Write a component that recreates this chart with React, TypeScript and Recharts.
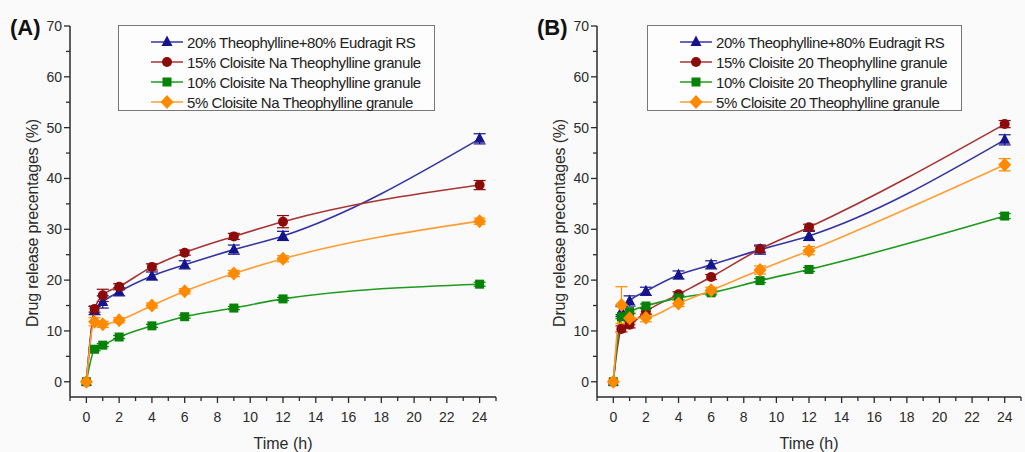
import React from "react";
import {
  LineChart,
  Line,
  XAxis,
  YAxis,
  ErrorBar,
  Legend,
  Label,
} from "recharts";

// sampling times (h)
const times = [0, 0.5, 1, 2, 4, 6, 9, 12, 24];

const xTicks = [-1, 0, 1, 2, 3, 4, 5, 6, 7, 8, 9, 10, 11, 12, 13, 14, 15, 16, 17, 18, 19, 20, 21, 22, 23, 24, 25];
const yTicks = [0, 5, 10, 15, 20, 25, 30, 35, 40, 45, 50, 55, 60, 65, 70];

// panel A: Cloisite Na
const namesA = [
  "20% Theophylline+80% Eudragit RS",
  "15% Cloisite Na Theophylline granule",
  "10% Cloisite Na Theophylline granule",
  "5% Cloisite Na Theophylline granule",
];
const aBlue = [0, 14.0, 15.7, 17.7, 20.8, 23.0, 26.0, 28.7, 47.8];
const aBlueErr = [0, 0.8, 1.2, 0.8, 0.8, 0.8, 0.9, 0.9, 1.0];
const aRed = [0, 14.3, 17.0, 18.7, 22.6, 25.4, 28.6, 31.5, 38.7];
const aRedErr = [0, 0.6, 1.2, 0.6, 0.6, 0.5, 0.6, 1.2, 0.9];
const aGreen = [0, 6.4, 7.2, 8.8, 11.0, 12.8, 14.5, 16.3, 19.2];
const aGreenErr = [0, 0.3, 0.3, 0.3, 0.3, 0.3, 0.3, 0.3, 0.4];
const aOrange = [0, 11.8, 11.3, 12.1, 15.0, 17.8, 21.3, 24.2, 31.6];
const aOrangeErr = [0, 0.8, 0.6, 0.5, 0.5, 0.5, 0.6, 0.6, 0.6];

// panel B: Cloisite 20
const namesB = [
  "20% Theophylline+80% Eudragit RS",
  "15% Cloisite 20 Theophylline granule",
  "10% Cloisite 20 Theophylline granule",
  "5% Cloisite 20 Theophylline granule",
];
const bBlue = [0, 13.8, 15.9, 17.8, 21.0, 23.0, 26.0, 28.7, 47.6];
const bBlueErr = [0, 1.0, 1.0, 0.8, 0.8, 0.8, 0.9, 0.9, 1.0];
const bRed = [0, 10.4, 11.2, 13.8, 17.2, 20.6, 26.1, 30.4, 50.7];
const bRedErr = [0, 0.6, 0.6, 0.6, 0.5, 0.5, 0.6, 0.6, 0.7];
const bGreen = [0, 12.8, 13.8, 14.9, 16.5, 17.5, 19.9, 22.1, 32.6];
const bGreenErr = [0, 0.4, 0.4, 0.4, 0.4, 0.4, 0.4, 0.4, 0.5];
const bOrange = [0, 15.1, 12.5, 12.6, 15.4, 18.0, 22.0, 25.8, 42.7];
const bOrangeErr = [0, 3.6, 1.2, 0.8, 0.6, 0.6, 0.8, 0.8, 1.2];

const FONT = "'Liberation Sans', Arial, sans-serif";
const INK = "#2b2b2b";

const styles = [
  { key: "blue", dot: "#14148c", line: "#3535a3", shape: "triangle" },
  { key: "red", dot: "#8b0a0a", line: "#a83232", shape: "circle" },
  { key: "green", dot: "#078207", line: "#1e9a1e", shape: "square" },
  { key: "orange", dot: "#ff8a00", line: "#ff9d33", shape: "diamond" },
];

function Marker({ cx, cy, shape, fill }: any) {
  if (cx == null || cy == null) return null;
  if (shape === "triangle")
    return <polygon points={`${cx},${cy - 6.5} ${cx - 5.5},${cy + 4} ${cx + 5.5},${cy + 4}`} fill={fill} />;
  if (shape === "circle") return <circle cx={cx} cy={cy} r={5} fill={fill} />;
  if (shape === "square") return <rect x={cx - 4.5} y={cy - 4.5} width={9} height={9} fill={fill} />;
  return <polygon points={`${cx},${cy - 7} ${cx + 6.5},${cy} ${cx},${cy + 7} ${cx - 6.5},${cy}`} fill={fill} />;
}

const XTick = ({ x, y, payload }: any) => {
  const v = payload.value;
  const major = v >= 0 && v % 2 === 0;
  return (
    <g>
      <line x1={x} x2={x} y1={y} y2={y + (major ? 6 : 4)} stroke={INK} strokeWidth={1.3} />
      {major && (
        <text x={x} y={y + 25} textAnchor="middle" fontSize={14} fill={INK} fontFamily={FONT}>
          {v}
        </text>
      )}
    </g>
  );
};

const YTick = ({ x, y, payload }: any) => {
  const v = payload.value;
  const major = v % 10 === 0;
  return (
    <g>
      <line x1={x} x2={x - (major ? 6 : 4)} y1={y} y2={y} stroke={INK} strokeWidth={1.3} />
      {major && (
        <text x={x - 8} y={y + 5} textAnchor="end" fontSize={14} fill={INK} fontFamily={FONT}>
          {v}
        </text>
      )}
    </g>
  );
};

function LegendBox({ names, left, width }: any) {
  return (
    <div
      style={{
        position: "absolute",
        left,
        top: 25,
        width,
        height: 86,
        boxSizing: "border-box",
        border: "1px solid #777",
        background: "#fdfdfd",
        fontFamily: FONT,
        fontSize: 15,
        letterSpacing: -0.45,
        color: "#222",
      }}
    >
      {names.map((n: string, i: number) => (
        <div key={n} style={{ position: "absolute", left: 31, top: 6 + i * 20, height: 20, display: "flex", alignItems: "center" }}>
          <svg width={34} height={20}>
            <line x1={1} x2={33} y1={10} y2={10} stroke={styles[i].line} strokeWidth={1.5} />
            <Marker cx={17} cy={10} shape={styles[i].shape} fill={styles[i].dot} />
          </svg>
          <span style={{ marginLeft: 3, whiteSpace: "nowrap" }}>{n}</span>
        </div>
      ))}
    </div>
  );
}

function Panel({ tag, names, values, errors, left, width, axisLeft, rightMargin, legendLeft, legendWidth }: any) {
  const rows = times.map((t, i) => {
    const r: any = { time: t };
    styles.forEach((s, k) => {
      r[s.key] = values[k][i];
      r[s.key + "Err"] = errors[k][i];
    });
    return r;
  });
  return (
    <div style={{ position: "absolute", left, top: 0, width, height: 452 }}>
      <LineChart width={width} height={452} data={rows} margin={{ top: 26, right: rightMargin, bottom: 0, left: 0 }}>
        <XAxis
          dataKey="time"
          type="number"
          domain={[-1, 25]}
          ticks={xTicks}
          interval={0}
          height={55}
          tickSize={0}
          tickMargin={0}
          tick={<XTick />}
          axisLine={{ stroke: INK, strokeWidth: 1.5 }}
          tickLine={false}
        >
          <Label
            content={({ viewBox }: any) => (
              <text x={viewBox.x + viewBox.width / 2} y={viewBox.y + 52} textAnchor="middle" fontSize={16} fill={INK} fontFamily={FONT}>
                Time (h)
              </text>
            )}
          />
        </XAxis>
        <YAxis
          type="number"
          domain={[-3, 70]}
          ticks={yTicks}
          interval={0}
          width={axisLeft}
          tickSize={0}
          tickMargin={0}
          tick={<YTick />}
          axisLine={{ stroke: INK, strokeWidth: 1.5 }}
          tickLine={false}
        >
          <Label
            content={({ viewBox }: any) => {
              const cx = viewBox.x + axisLeft - 32;
              const cy = 223;
              return (
                <text x={cx} y={cy} transform={`rotate(-90 ${cx} ${cy})`} textAnchor="middle" fontSize={16} letterSpacing={-0.2} fill={INK} fontFamily={FONT}>
                  Drug release precentages (%)
                </text>
              );
            }}
          />
        </YAxis>
        <Legend content={() => null} />
        {styles.map((s, k) => (
          <Line
            key={s.key}
            dataKey={s.key}
            name={names[k]}
            type="monotone"
            stroke={s.line}
            strokeWidth={1.6}
            isAnimationActive={false}
            dot={(p: any) => <Marker key={`${s.key}-${p.index}`} cx={p.cx} cy={p.cy} shape={s.shape} fill={s.dot} />}
            activeDot={false}
          >
            <ErrorBar dataKey={s.key + "Err"} width={6} stroke={s.dot} strokeWidth={1.2} direction="y" />
          </Line>
        ))}
      </LineChart>
      <LegendBox names={names} left={legendLeft} width={legendWidth} />
      <div
        style={{
          position: "absolute",
          left: tag === "(A)" ? 10 : 17,
          top: 15,
          fontFamily: FONT,
          fontWeight: "bold",
          fontSize: 22,
          color: "#111",
        }}
      >
        {tag}
      </div>
    </div>
  );
}

export default function App() {
  return (
    <div style={{ position: "relative", width: 1025, height: 452, background: "#fafafa", overflow: "hidden" }}>
      <style>{"body{margin:0}"}</style>
      <Panel
        tag="(A)"
        names={namesA}
        values={[aBlue, aRed, aGreen, aOrange]}
        errors={[aBlueErr, aRedErr, aGreenErr, aOrangeErr]}
        left={0}
        width={515}
        axisLeft={70}
        rightMargin={19}
        legendLeft={118}
        legendWidth={317}
      />
      <Panel
        tag="(B)"
        names={namesB}
        values={[bBlue, bRed, bGreen, bOrange]}
        errors={[bBlueErr, bRedErr, bGreenErr, bOrangeErr]}
        left={520}
        width={505}
        axisLeft={77}
        rightMargin={4}
        legendLeft={127}
        legendWidth={315}
      />
    </div>
  );
}
